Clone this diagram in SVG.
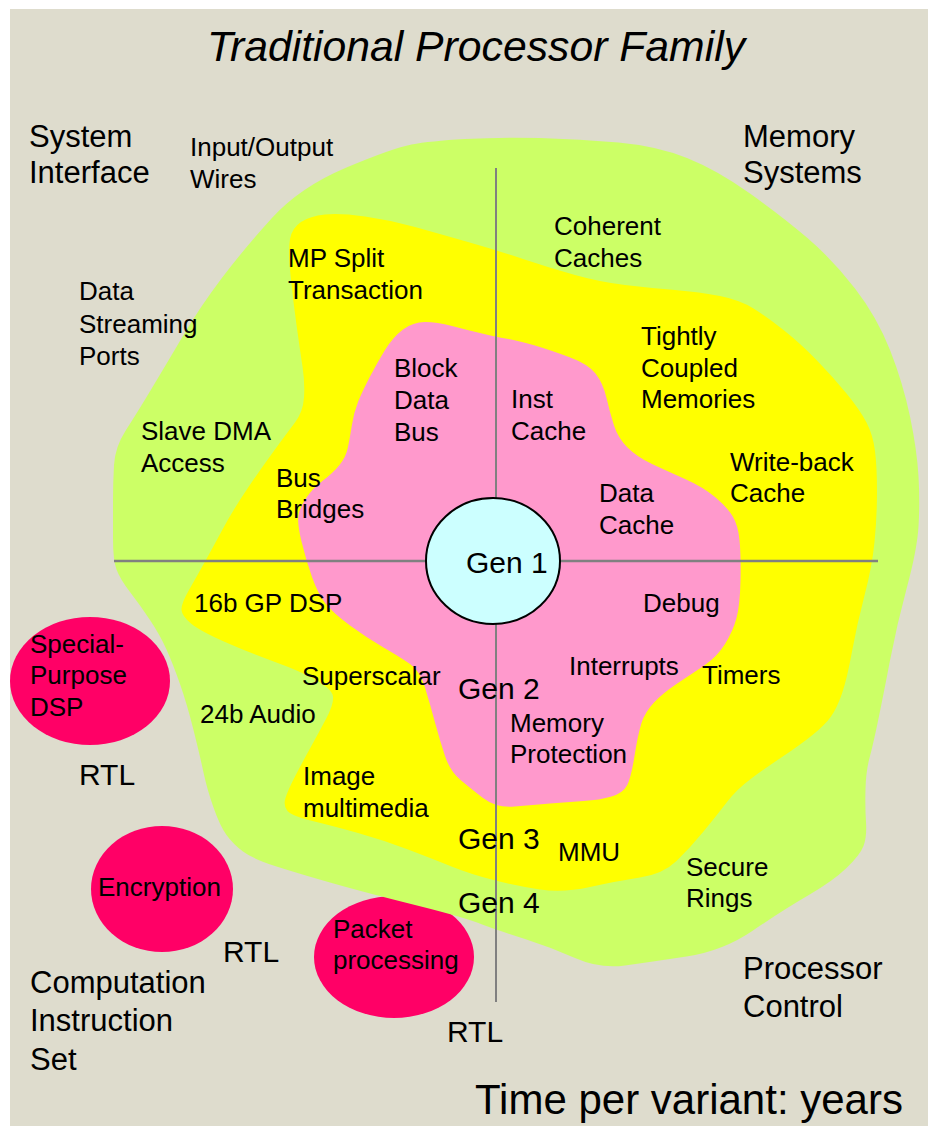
<svg xmlns="http://www.w3.org/2000/svg" width="928" height="1126" viewBox="0 0 928 1126">
  <style>
    text { font-family: "Liberation Sans", Arial, sans-serif; fill: #000; }
    .lbl { font-size: 26px; }
    .big { font-size: 31px; }
    .gen { font-size: 30px; }
    .title { font-size: 42px; font-style: italic; }
    .foot { font-size: 42px; }
    .axis { stroke: #808080; fill: none; }
    .rtl-block { fill: #FF0066; }
  </style>

  <!-- page background -->
  <rect x="0" y="0" width="928" height="1126" fill="#FFFFFF"/>
  <rect x="10" y="9" width="918" height="1117" fill="#DEDCCD"/>

  <!-- special-purpose RTL blocks -->
  <g id="special-purpose-dsp">
    <ellipse class="rtl-block" cx="90" cy="681" rx="80" ry="64"/>
    <text class="lbl" x="30" y="653">Special-</text>
    <text class="lbl" x="30" y="684">Purpose</text>
    <text class="lbl" x="30" y="716">DSP</text>
  </g>
  <g id="encryption">
    <ellipse class="rtl-block" cx="162" cy="889" rx="71" ry="63"/>
    <text class="lbl" x="98" y="896">Encryption</text>
  </g>
  <g id="packet-processing">
    <ellipse class="rtl-block" cx="394" cy="957" rx="80" ry="61"/>
  </g>

  <!-- generation 4 ring -->
  <g id="gen4-ring">
    <path fill="#CCFF66" d="M271.5,218.5 Q300,187 346.5,167.5 Q393,148 411.5,144.5 Q430,141 465,139 Q500,137 540,138 Q580,139 618.5,142.5 Q657,146 687,158 Q717,170 750,193.5 Q783,217 808,238.5 Q833,260 855,288.5 Q877,317 890,350 Q903,383 910,416.5 Q917,450 918.5,476.5 Q920,503 918.5,526.5 Q917,550 907,587 Q897,624 890,660.5 Q883,697 878,721 Q873,745 869.5,758 Q866,771 865.5,789 Q865,807 866,822 Q867,837 863.5,846 Q860,855 846.5,868 Q833,881 808,895.5 Q783,910 753,930.5 Q723,951 686.5,956.5 Q650,962 625,965.5 Q600,969 575,958 Q550,947 525,939 Q500,931 483.5,925 Q467,918 417,905.5 Q367,893 333.5,883.5 Q300,874 276.5,866.5 Q253,859 243,851.5 Q233,844 226.5,835 Q220,826 213.5,807.5 Q207,789 203.5,772.5 Q200,756 193.5,730 Q187,704 180,684 Q173,664 166.5,649.5 Q160,635 150,620 Q140,605 130,592 Q120,579 116.5,569.5 Q113,560 113,538.5 Q113,517 113,500 Q113,483 114,465 Q115,447 126,430 Q137,413 152,388 Q167,363 183.5,335 Q200,307 221.5,278.5 Q243,250 271.5,218.5 Z"/>
  </g>

  <!-- generation 3 ring -->
  <g id="gen3-ring">
    <path fill="#FFFF00" d="M290.5,275 Q288,250 290,239 Q292,228 301,222 Q310,216 325,214.5 Q340,213 365,216.5 Q390,220 415,227 Q440,234 468,242 Q496,250 523,259 Q550,268 575,275 Q600,282 625,285 Q650,288 675,290 Q700,292 720,296 Q740,300 753.5,308.5 Q767,317 783.5,330 Q800,343 816.5,360 Q833,377 846.5,393.5 Q860,410 866.5,422.5 Q873,435 875,451 Q877,467 877,492 Q877,517 874.5,542 Q872,567 864.5,595.5 Q857,624 852,651.5 Q847,679 842,693.5 Q837,708 831,716.5 Q825,725 812.5,735 Q800,745 783.5,756 Q767,767 752,778 Q737,789 727,802 Q717,815 703.5,831.5 Q690,848 676.5,861 Q663,874 640,877.5 Q617,881 590,887 Q563,893 540,889.5 Q517,886 493.5,880 Q470,874 451.5,866.5 Q433,859 408,849.5 Q383,840 358,833 Q333,826 312.5,821 Q292,816 287.5,811 Q283,806 285.5,798 Q288,790 295,776.5 Q302,763 310,748.5 Q318,734 326,719 Q334,704 333,696.5 Q332,689 316,680 Q300,671 275,662 Q250,653 225,642 Q200,631 191,623.5 Q182,616 181.5,610 Q181,604 189,590 Q197,576 204.5,562.5 Q212,549 222.5,529.5 Q233,510 246.5,490 Q260,470 273.5,451.5 Q287,433 295,422.5 Q303,412 304,397.5 Q305,383 302.5,366.5 Q300,350 296.5,325 Q293,300 290.5,275 Z"/>
  </g>

  <!-- generation 2 ring -->
  <g id="gen2-ring">
    <path fill="#FF99CC" d="M385,350 Q393,337 403,329.5 Q413,322 425,322 Q437,322 452,326 Q467,330 482,333.5 Q497,337 508.5,339 Q520,341 535,345.5 Q550,350 569,357 Q588,364 595.5,373.5 Q603,383 606.5,398 Q610,413 614,425.5 Q618,438 627.5,447.5 Q637,457 652,464 Q667,471 685,479 Q703,487 715,497 Q727,507 732.5,516 Q738,525 739.5,540 Q741,555 740.5,580 Q740,605 736.5,618 Q733,631 725,644 Q717,657 703.5,666 Q690,675 676.5,684 Q663,693 654,702.5 Q645,712 641.5,723 Q638,734 634.5,756 Q631,778 627,785.5 Q623,793 611.5,796.5 Q600,800 583.5,801 Q567,802 550,803.5 Q533,805 514.5,806.5 Q496,808 483,798 Q470,788 460,779.5 Q450,771 445,756 Q440,741 435,722.5 Q430,704 425,687.5 Q420,671 410,664 Q400,657 383.5,647.5 Q367,638 350,625.5 Q333,613 325.5,603.5 Q318,594 312,577 Q306,560 301.5,541.5 Q297,523 298.5,515 Q300,507 306.5,497.5 Q313,488 323,480.5 Q333,473 339.5,465 Q346,457 348,447 Q350,437 352,424.5 Q354,412 358,402 Q362,392 369.5,377.5 Q377,363 385,350 Z"/>
  </g>

  <!-- quadrant axes -->
  <g id="axes">
    <line class="axis" x1="114" y1="561" x2="878" y2="561" stroke-width="2.6"/>
    <line class="axis" x1="496" y1="168" x2="496" y2="1002" stroke-width="2"/>
  </g>

  <!-- generation 1 core -->
  <g id="gen1">
    <ellipse cx="493" cy="561" rx="67" ry="63" fill="#CCFFFF" stroke="#000" stroke-width="2"/>
    <text class="gen" x="466" y="573">Gen 1</text>
  </g>

  <g id="title">
    <text class="title" x="207" y="61" textLength="538" lengthAdjust="spacingAndGlyphs">Traditional Processor Family</text>
  </g>

  <!-- quadrant headings -->
  <g id="system-interface">
    <text class="big" x="29" y="147">System</text>
    <text class="big" x="29" y="183">Interface</text>
  </g>
  <g id="memory-systems">
    <text class="big" x="743" y="147">Memory</text>
    <text class="big" x="743" y="183">Systems</text>
  </g>
  <g id="computation-instruction-set">
    <text class="big" x="30" y="993">Computation</text>
    <text class="big" x="30" y="1031">Instruction</text>
    <text class="big" x="30" y="1070">Set</text>
  </g>
  <g id="processor-control">
    <text class="big" x="743" y="979">Processor</text>
    <text class="big" x="743" y="1017">Control</text>
  </g>

  <!-- system interface features -->
  <g id="io-wires">
    <text class="lbl" x="190" y="156">Input/Output</text>
    <text class="lbl" x="190" y="188">Wires</text>
  </g>
  <g id="data-streaming-ports">
    <text class="lbl" x="79" y="300">Data</text>
    <text class="lbl" x="79" y="333">Streaming</text>
    <text class="lbl" x="79" y="365">Ports</text>
  </g>
  <g id="slave-dma">
    <text class="lbl" x="141" y="440">Slave DMA</text>
    <text class="lbl" x="141" y="472">Access</text>
  </g>
  <g id="mp-split">
    <text class="lbl" x="288" y="267">MP Split</text>
    <text class="lbl" x="288" y="299">Transaction</text>
  </g>
  <g id="bus-bridges">
    <text class="lbl" x="276" y="487">Bus</text>
    <text class="lbl" x="276" y="518">Bridges</text>
  </g>
  <g id="block-data-bus">
    <text class="lbl" x="394" y="377">Block</text>
    <text class="lbl" x="394" y="409">Data</text>
    <text class="lbl" x="394" y="441">Bus</text>
  </g>

  <!-- memory system features -->
  <g id="coherent-caches">
    <text class="lbl" x="554" y="235">Coherent</text>
    <text class="lbl" x="554" y="267">Caches</text>
  </g>
  <g id="tightly-coupled">
    <text class="lbl" x="641" y="345">Tightly</text>
    <text class="lbl" x="641" y="377">Coupled</text>
    <text class="lbl" x="641" y="408">Memories</text>
  </g>
  <g id="inst-cache">
    <text class="lbl" x="511" y="408">Inst</text>
    <text class="lbl" x="511" y="440">Cache</text>
  </g>
  <g id="write-back">
    <text class="lbl" x="730" y="471">Write-back</text>
    <text class="lbl" x="730" y="502">Cache</text>
  </g>
  <g id="data-cache">
    <text class="lbl" x="599" y="502">Data</text>
    <text class="lbl" x="599" y="534">Cache</text>
  </g>

  <!-- computation features -->
  <g id="gp-dsp">
    <text class="lbl" x="194" y="612">16b GP DSP</text>
  </g>
  <g id="superscalar">
    <text class="lbl" x="302" y="685">Superscalar</text>
  </g>
  <g id="audio">
    <text class="lbl" x="200" y="723">24b Audio</text>
  </g>
  <g id="image-multimedia">
    <text class="lbl" x="303" y="785">Image</text>
    <text class="lbl" x="303" y="817">multimedia</text>
  </g>

  <!-- processor control features -->
  <g id="debug">
    <text class="lbl" x="643" y="612">Debug</text>
  </g>
  <g id="interrupts">
    <text class="lbl" x="569" y="675">Interrupts</text>
  </g>
  <g id="timers">
    <text class="lbl" x="702" y="684">Timers</text>
  </g>
  <g id="memory-protection">
    <text class="lbl" x="510" y="732">Memory</text>
    <text class="lbl" x="510" y="763">Protection</text>
  </g>
  <g id="mmu">
    <text class="lbl" x="558" y="861">MMU</text>
  </g>
  <g id="secure-rings">
    <text class="lbl" x="686" y="876">Secure</text>
    <text class="lbl" x="686" y="907">Rings</text>
  </g>

  <!-- generation labels -->
  <g id="gen-labels">
    <text class="gen" x="458" y="699">Gen 2</text>
    <text class="gen" x="458" y="849">Gen 3</text>
    <text class="gen" x="458" y="913">Gen 4</text>
  </g>

  <g id="packet-label">
    <text class="lbl" x="333" y="938">Packet</text>
    <text class="lbl" x="333" y="969">processing</text>
  </g>

  <g id="rtl-labels">
    <text class="gen" x="79" y="785">RTL</text>
    <text class="gen" x="223" y="962">RTL</text>
    <text class="gen" x="447" y="1042">RTL</text>
  </g>

  <g id="footer">
    <text class="foot" x="475" y="1114">Time per variant: years</text>
  </g>
</svg>
